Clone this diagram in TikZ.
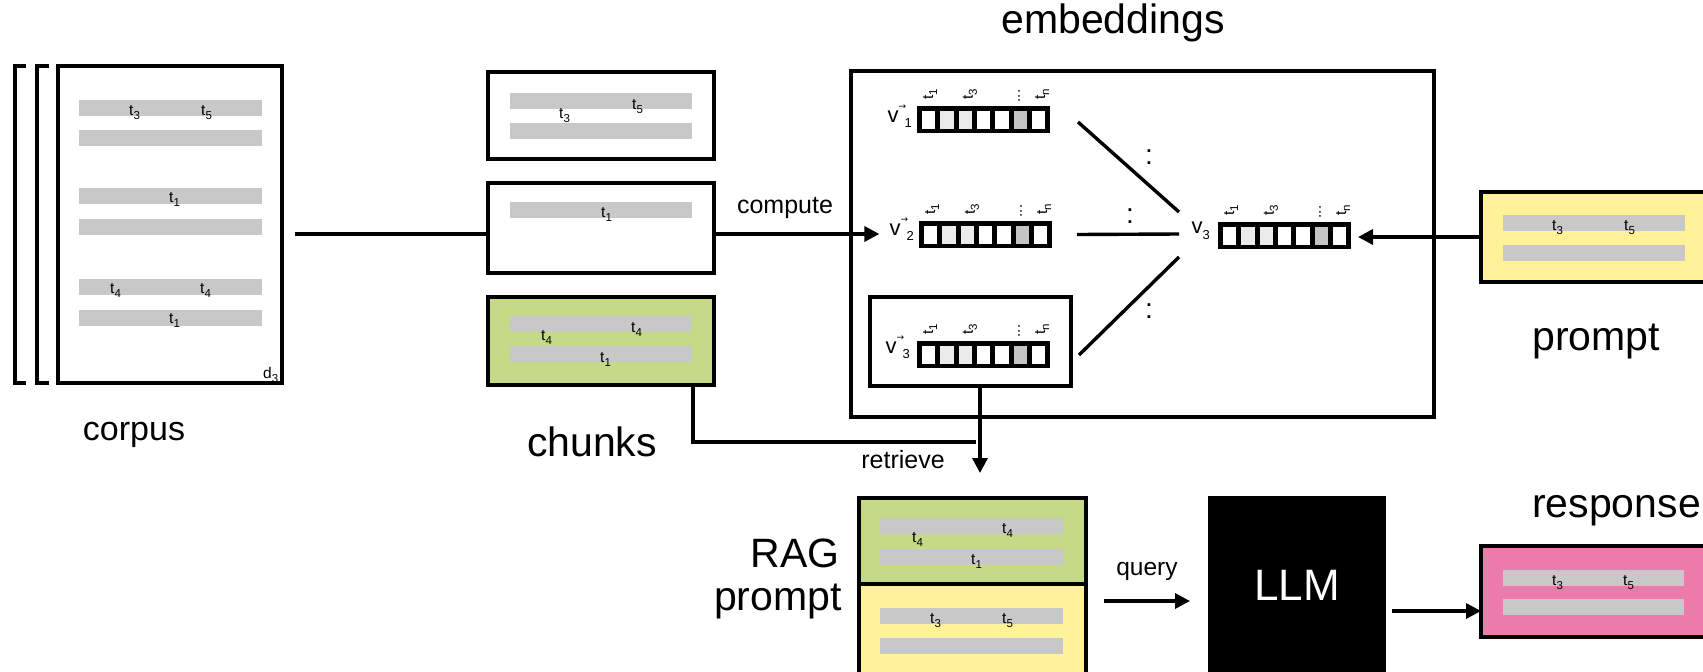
\documentclass[tikz,border=0pt]{standalone}
\usepackage{fontspec}
\setmainfont{Liberation Sans}
\newfontfamily\symfont{DejaVu Sans}
\usetikzlibrary{arrows.meta,calc}

\definecolor{barc}{HTML}{C8C8C8}
\definecolor{cellA}{HTML}{EBEBEB}
\definecolor{cellB}{HTML}{C4C4C4}
\definecolor{chunkgreen}{HTML}{C5D986}
\definecolor{promptyellow}{HTML}{FFF299}
\definecolor{respink}{HTML}{EC7BAC}

\newcommand\fs[1]{\fontsize{#1pt}{#1pt}\selectfont}
% term label t_i
\newcommand\tsub[1]{{\fs{15.5}t\raisebox{-4pt}{\fs{11.5}#1}}}
% vector label with arrow
\newcommand\vvec[1]{{\fs{22}v}\hspace{0pt}\makebox[0pt][l]{\raisebox{13pt}{\symfont\fs{9}→}}\hspace{6pt}\raisebox{-5pt}{\fs{13}#1}}
% plain vector label
\newcommand\vplain[1]{{\fs{22}v}\raisebox{-6pt}{\fs{13}#1}}

\tikzset{
  box/.style={draw, line width=4pt, inner sep=0pt, outer sep=0pt},
  ln/.style={line width=3.4pt},
  arr/.style={line width=3.4pt, -{Triangle[length=15pt,width=15pt]}},
  big/.style={font=\fs{41}, inner sep=0pt},
  mid/.style={font=\fs{25}, inner sep=0pt},
  tl/.style={inner sep=0pt, anchor=base west},
  rl/.style={inner sep=0pt, rotate=90, anchor=center},
  vl/.style={inner sep=0pt, anchor=base east},
  colon/.style={inner sep=0pt, font=\fs{28}},
}

% one-hot style embedding vector with rotated term labels
\newcommand\vecbar[3]{%
  \node[fill=black, inner sep=0pt, outer sep=0pt, minimum width=133pt, minimum height=27pt, anchor=north west] (#1) at (#2,#3) {};
  \foreach \i/\cc in {0/white,1/cellA,2/cellA,3/white,4/white,5/cellB,6/white}
    \fill[\cc] ($(#1.north west)+({5+\i*18.3},4.5)$) rectangle ++(13.3,18);
  \node[rl] at ($(#1.north west)+(13,-12)$) {\tsub{1}};
  \node[rl] at ($(#1.north west)+(53,-12)$) {\tsub{3}};
  \node[rl, font=\fs{15}] at ($(#1.north west)+(102,-10)$) {...};
  \node[rl] at ($(#1.north west)+(125,-12)$) {\tsub{n}};
}

\begin{document}
\begin{tikzpicture}[x=1pt, y=-1pt]
\useasboundingbox (0,0) rectangle (1703,672);

% ---------------- corpus ----------------
\draw[line width=4pt] (26,66) -- (15,66) -- (15,383) -- (26,383);
\draw[line width=4pt] (49,66) -- (37,66) -- (37,383) -- (49,383);
\node[box, minimum width=224pt, minimum height=317pt] (corpus) at (170,224.5) {};
\foreach \y in {100,130,188,219,279,310}
  \fill[barc] (79,\y) rectangle (262,{\y+16});
\node[tl] at (129,115) {\tsub{3}};
\node[tl] at (201,115) {\tsub{5}};
\node[tl] at (169,202) {\tsub{1}};
\node[tl] at (110,293) {\tsub{4}};
\node[tl] at (200,293) {\tsub{4}};
\node[tl] at (169,323) {\tsub{1}};
\node[tl] at (263,378) {{\fs{15.5}d\raisebox{-4pt}{\fs{11.5}3}}};
\node[font=\fs{34}, inner sep=0pt] (corpuslab) at (134,435) {corpus};

% ---------------- chunks ----------------
\node[box, minimum width=226pt, minimum height=87pt] (chunk1) at (601,115.5) {};
\node[box, minimum width=226pt, minimum height=90pt] (chunk2) at (601,228) {};
\node[box, fill=chunkgreen, minimum width=226pt, minimum height=88pt] (chunk3) at (601,341) {};
\foreach \y in {93,123,202,316,346}
  \fill[barc] (510,\y) rectangle (692,{\y+16});
\node[tl] at (559,118) {\tsub{3}};
\node[tl] at (632,109) {\tsub{5}};
\node[tl] at (601,217) {\tsub{1}};
\node[tl] at (631,332) {\tsub{4}};
\node[tl] at (541,340) {\tsub{4}};
\node[tl] at (600,362) {\tsub{1}};
\node[big] (chunkslab) at (592,442) {chunks};

% ---------------- embeddings ----------------
\node[box, minimum width=583pt, minimum height=346pt] (emb) at (1142.5,244) {};
\node[big, anchor=base] (emblab) at (1113,33) {embeddings};
\node[box, minimum width=201pt, minimum height=89pt] (sub) at (970.5,341.5) {};

\vecbar{vec1}{917}{106}
\vecbar{vec2}{919}{221}
\vecbar{vec3}{917}{341}
\vecbar{qvec}{1218}{222}

\node[vl] (v1lab) at (912,122) {\vvec{1}};
\node[vl] (v2lab) at (914,235) {\vvec{2}};
\node[vl] (v3lab) at (910,353) {\vvec{3}};
\node[vl] (qlab) at (1210,233) {\vplain{3}};

% similarity links towards the query vector
\coordinate (h1) at (1179,212);
\coordinate (h2) at (1179,234);
\coordinate (h3) at (1179,257);
\draw[ln] ($(vec1.east)+(28,2.5)$) -- (h1);
\draw[ln] ($(vec2.east)+(25,0)$) -- (h2);
\draw[ln] ($(sub.east)+(8,13.5)$) -- (h3);
\node[colon] (col1) at (1149,157.5) {:};
\node[colon] (col2) at (1130,216) {:};
\node[colon] (col3) at (1149,311) {:};

% ---------------- prompt ----------------
\node[box, fill=promptyellow, minimum width=258pt, minimum height=90pt] (prompt) at (1610,237) {};
\fill[barc] (1503,215) rectangle (1685,231);
\fill[barc] (1503,245) rectangle (1685,261);
\node[tl] at (1552,230) {\tsub{3}};
\node[tl] at (1624,230) {\tsub{5}};
\node[big, anchor=base] (promptlab) at (1596,350) {prompt};

% ---------------- RAG prompt ----------------
\node[box, fill=promptyellow, minimum width=227pt, minimum height=136pt] (ragY) at (972.5,652) {};
\node[box, fill=chunkgreen, minimum width=227pt, minimum height=86pt] (ragG) at (972.5,541) {};
\foreach \y in {518,549,608,638}
  \fill[barc] (880,\y) rectangle (1063,{\y+16});
\node[tl] at (912,542) {\tsub{4}};
\node[tl] at (1002,533) {\tsub{4}};
\node[tl] at (971,564) {\tsub{1}};
\node[tl] at (930,623) {\tsub{3}};
\node[tl] at (1002,623) {\tsub{5}};
\node[big, anchor=base east] (raglab1) at (840,567) {RAG};
\node[big, anchor=base east] (raglab2) at (842,610) {prompt};

% ---------------- LLM ----------------
\node[fill=black, inner sep=0pt, outer sep=0pt, minimum width=178pt, minimum height=176pt] (LLM) at (1297,584) {};
\node[font=\fs{44}, text=white, inner sep=0pt, anchor=base] (llmlab) at (1297,600) {LLM};

% ---------------- response ----------------
\node[box, fill=respink, minimum width=258pt, minimum height=91pt] (resp) at (1610,591.5) {};
\fill[barc] (1503,570) rectangle (1684,586);
\fill[barc] (1503,599) rectangle (1684,615);
\node[tl] at (1552,585) {\tsub{3}};
\node[tl] at (1623,585) {\tsub{5}};
\node[big, anchor=base west] (resplab) at (1532,517) {response};

% ---------------- connectors ----------------
\draw[ln] ($(corpus.east)+(13,9.5)$) -- ($(chunk2.west)+(0,6)$);
\draw[arr] ($(chunk2.east)+(0,6)$) -- ($(v2lab.west |- chunk2.east)+(-10,6)$);
\node[mid, anchor=base] (computelab) at (785,213) {compute};
\draw[arr, shorten >=7pt] (prompt.west) -- (prompt.west -| qvec.east);
\draw[ln] ($(chunk3.south)+(92,0)$) |- ($(ragG.north)+(3.5,-56)$);
\draw[arr] ($(sub.south)+(9.5,0)$) -- ($(ragG.north)+(7.5,-25)$);
\node[mid, anchor=base] (retrievelab) at (903,468) {retrieve};
\draw[arr] ($(ragG.south east)+(18,17)$) -- ($(LLM.west)+(-18,17)$);
\node[font=\fs{24.5}, inner sep=0pt, anchor=base] (querylab) at (1147,575) {query};
\draw[arr] ($(LLM.east)+(6,27)$) coordinate (o) -- (o -| resp.west);
\end{tikzpicture}
\end{document}
